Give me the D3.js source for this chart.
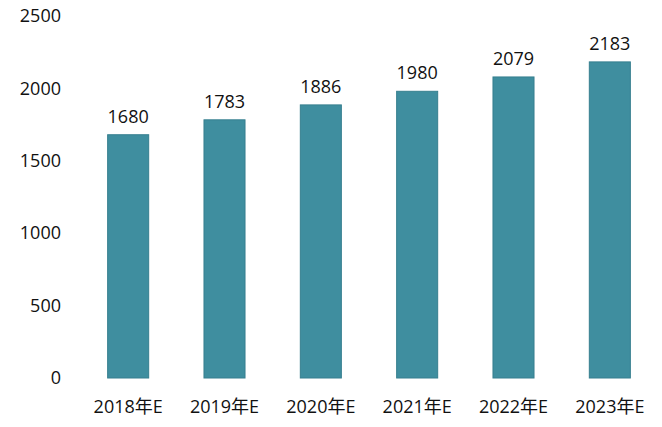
<!DOCTYPE html>
<html><head><meta charset="utf-8">
<script src="https://cdn.jsdelivr.net/npm/d3@7"></script>
<style>body{margin:0;background:#fff;}svg{display:block;}</style>
</head><body>
<script>
const categories = ["2018年E","2019年E","2020年E","2021年E","2022年E","2023年E"];
const values = [1680,1783,1886,1980,2079,2183];
const yTicks = [0,500,1000,1500,2000,2500];

const W=662,H=427;
const svg=d3.select("body").append("svg").attr("width",W).attr("height",H);
const font="'Open Sans','Noto Sans CJK SC',sans-serif";
const x=d3.scaleBand().domain(categories).range([80,658]).paddingInner(0.574).paddingOuter(0.287);
const y=d3.scaleLinear().domain([0,2500]).range([378,16]);

const yAxis=d3.axisLeft(y).tickValues(yTicks).tickFormat(d3.format("d")).tickSize(0).tickPadding(0);
const gy=svg.append("g").attr("transform","translate(61,0)").call(yAxis);
gy.select(".domain").remove();
gy.selectAll("text").attr("font-family",font).attr("font-size",18).attr("fill","#111");

const xAxis=d3.axisBottom(x).tickSize(0).tickPadding(0);
const gx=svg.append("g").attr("transform","translate(0,400)").call(xAxis);
gx.select(".domain").remove();
gx.selectAll("text").attr("font-family",font).attr("font-size",18).attr("fill","#111").attr("dy","0.71em");

svg.selectAll("rect.bar").data(values).enter().append("rect").attr("class","bar")
 .attr("x",(d,i)=>x(categories[i])).attr("width",x.bandwidth())
 .attr("y",d=>y(d)).attr("height",d=>y(0)-y(d))
 .attr("fill","#3f8e9f").attr("stroke","#367f8f").attr("stroke-width",1);

svg.selectAll("text.val").data(values).enter().append("text").attr("class","val")
 .attr("x",(d,i)=>x(categories[i])+x.bandwidth()/2).attr("y",d=>y(d)-12)
 .attr("text-anchor","middle").attr("font-family",font).attr("font-size",18).attr("fill","#111")
 .text(d=>d);
</script>
</body></html>
